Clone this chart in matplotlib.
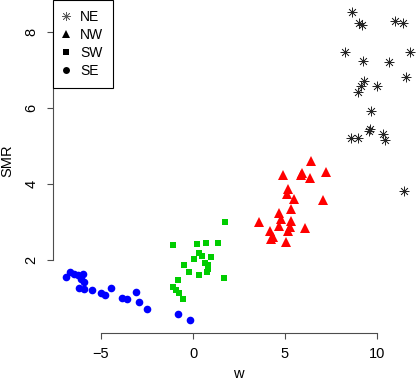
import matplotlib.pyplot as plt
from matplotlib.lines import Line2D

plt.rcParams['font.family'] = ['Liberation Sans', 'DejaVu Sans']

# regions: NE, NW, SW, SE
ne_w = [8.62, 9.04, 9.18, 10.98, 11.40, 8.26, 9.22, 11.79, 10.65, 11.56, 9.28,
        9.11, 8.97, 9.98, 9.67, 9.62, 9.55, 8.57, 8.95, 10.31, 10.43, 11.45]
ne_smr = [8.52, 8.24, 8.18, 8.30, 8.23, 7.48, 7.24, 7.47, 7.21, 6.82, 6.71,
          6.58, 6.41, 6.59, 5.91, 5.46, 5.40, 5.22, 5.20, 5.32, 5.16, 3.82]

nw_w = [6.41, 4.89, 5.92, 5.85, 6.38, 7.21, 5.18, 5.11, 5.51, 7.05, 5.33, 4.66,
        4.80, 3.57, 5.33, 4.69, 5.27, 6.10, 4.20, 5.18, 4.36, 4.24, 5.04]
nw_smr = [4.61, 4.23, 4.28, 4.23, 4.15, 4.32, 3.86, 3.74, 3.60, 3.59, 3.35, 3.24,
          3.07, 3.01, 3.03, 2.89, 2.86, 2.84, 2.76, 2.77, 2.60, 2.54, 2.48]

sw_w = [1.76, -1.10, 0.23, 0.69, 1.34, 0.31, 0.51, 0.99, 0.04, 0.65, 0.83,
        -0.47, 0.83, -0.23, 0.76, 0.33, 1.70, -0.83, -1.07, -0.92, -0.78, -0.54]
sw_smr = [2.99, 2.39, 2.41, 2.46, 2.44, 2.18, 2.11, 2.09, 2.02, 1.91, 1.87,
          1.87, 1.76, 1.69, 1.68, 1.61, 1.52, 1.47, 1.30, 1.21, 1.12, 0.98]

se_w = [-6.90, -6.68, -6.47, -6.23, -5.96, -6.09, -5.91, -6.20, -5.95, -5.49,
        -5.02, -4.78, -4.48, -3.88, -3.57, -3.08, -2.92, -2.52, -0.83, -0.16]
se_smr = [1.56, 1.69, 1.63, 1.61, 1.63, 1.51, 1.41, 1.26, 1.24, 1.21,
          1.12, 1.09, 1.26, 1.01, 0.97, 1.16, 0.90, 0.72, 0.57, 0.41]

x_ticks = [-5, 0, 5, 10]
y_ticks = [2, 4, 6, 8]
labels = ["NE", "NW", "SW", "SE"]

fig = plt.figure(figsize=(4.16, 3.82), dpi=100)
ax = fig.add_axes([53 / 416, 49.3 / 382, 363 / 416, 332.7 / 382])

ax.plot(ne_w, ne_smr, ls="none", marker=(8, 2, 0), ms=7, mec="0.15",
        mew=0.5, clip_on=False)
ax.plot(nw_w, nw_smr, ls="none", marker="^", ms=7, color="#ff0000", mew=0,
        clip_on=False)
ax.plot(sw_w, sw_smr, ls="none", marker="s", ms=5, color="#00cd00", mew=0,
        clip_on=False)
ax.plot(se_w, se_smr, ls="none", marker="o", ms=5.5, color="#0000ff", mew=0,
        clip_on=False)

ax.set_xlim(-7.61, 12.12)
ax.set_ylim(0.087, 8.842)

for s in ["top", "right"]:
    ax.spines[s].set_visible(False)
ax.spines["bottom"].set_bounds(x_ticks[0], x_ticks[-1])
ax.spines["left"].set_bounds(y_ticks[0], y_ticks[-1])
for s in ["bottom", "left"]:
    ax.spines[s].set_color("0.3")
    ax.spines[s].set_linewidth(0.8)

ax.set_xticks(x_ticks)
ax.set_yticks(y_ticks)
ax.set_xticklabels(["\u22125", "0", "5", "10"])
ax.tick_params(length=4.5, width=0.8, color="0.3", labelsize=10.5, pad=6)
plt.setp(ax.get_yticklabels(), rotation=90, va="center")

ax.set_xlabel("w", fontsize=10.5)
ax.xaxis.label.set_va("center")
ax.xaxis.set_label_coords(0.51, -0.124)
ax.set_ylabel("SMR", fontsize=10.5)
ax.yaxis.label.set_va("center")
ax.yaxis.set_label_coords(-0.125, 0.516)

handles = [
    Line2D([], [], ls="none", marker=(8, 2, 0), ms=6.5, mec="0.35", mew=0.5),
    Line2D([], [], ls="none", marker="^", ms=6, color="black", mew=0),
    Line2D([], [], ls="none", marker="s", ms=4.5, color="black", mew=0),
    Line2D([], [], ls="none", marker="o", ms=5, color="black", mew=0),
]
leg = ax.legend(handles, labels, loc="upper left", bbox_to_anchor=(0, 1),
                borderaxespad=0, fancybox=False, framealpha=1,
                edgecolor="black", fontsize=10, borderpad=0.7,
                handlelength=0.4, handletextpad=0.85, labelspacing=0.3)
leg.get_frame().set_linewidth(0.8)

fig.savefig("out.png", dpi=100)
